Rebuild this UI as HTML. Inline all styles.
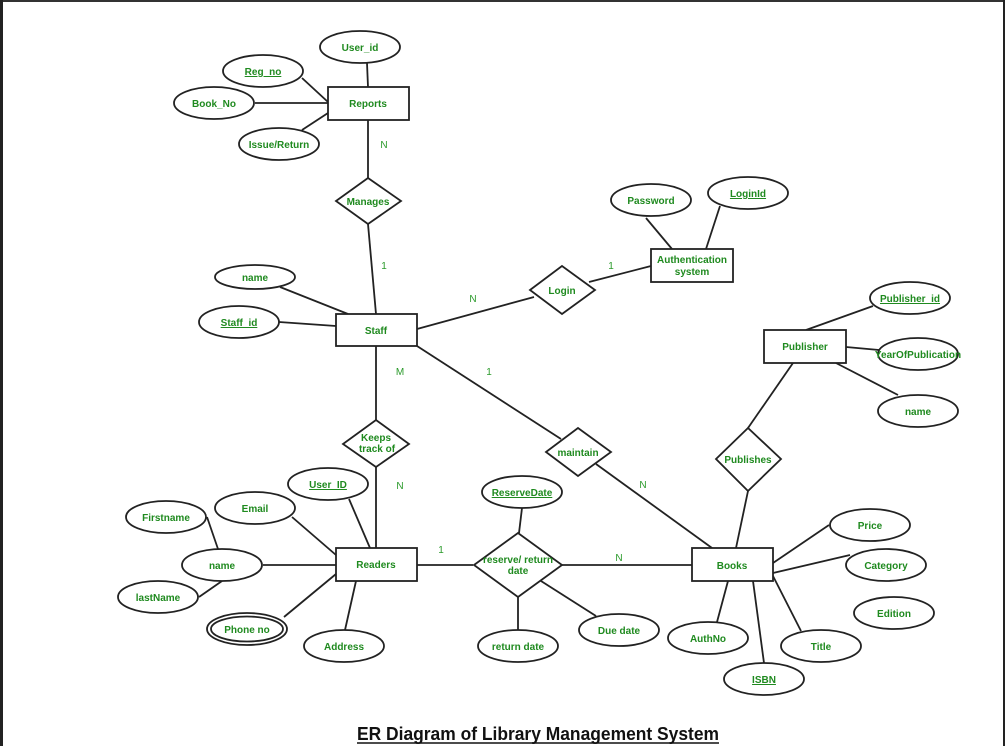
<!DOCTYPE html>
<html><head><meta charset="utf-8"><style>
html,body{margin:0;padding:0;background:#fff;}
svg{display:block;}
text{font-family:"Liberation Sans",Arial,sans-serif;fill:#1f8a1f;font-size:10px;font-weight:bold;text-anchor:middle;}
.c{font-weight:normal;font-size:10px;fill:#2a9a2a;}
</style></head><body>
<svg width="1005" height="746" viewBox="0 0 1005 746" xmlns="http://www.w3.org/2000/svg">
<rect x="0" y="0" width="1005" height="746" fill="#fff"/>
<rect x="0" y="0" width="1005" height="2" fill="#333"/>
<rect x="0" y="0" width="3" height="746" fill="#222"/>
<rect x="1003" y="0" width="2" height="746" fill="#222"/>
<g stroke="#222" stroke-width="1.8" fill="none">
<!-- lines -->
<line x1="367" y1="63" x2="368" y2="87"/>
<line x1="302" y1="78" x2="328" y2="102"/>
<line x1="255" y1="103" x2="328" y2="103"/>
<line x1="302" y1="130" x2="328" y2="113"/>
<line x1="368" y1="120" x2="368" y2="178"/>
<line x1="368" y1="224" x2="376" y2="314"/>
<line x1="280" y1="287" x2="348" y2="314"/>
<line x1="279" y1="322" x2="336" y2="326"/>
<line x1="417" y1="329" x2="534" y2="297"/>
<line x1="589" y1="282" x2="651" y2="266"/>
<line x1="646" y1="218" x2="672" y2="249"/>
<line x1="720" y1="206" x2="706" y2="249"/>
<line x1="806" y1="330" x2="873" y2="306"/>
<line x1="846" y1="347" x2="879" y2="350"/>
<line x1="836" y1="363" x2="898" y2="395"/>
<line x1="793" y1="363" x2="748" y2="428"/>
<line x1="748" y1="491" x2="736" y2="548"/>
<line x1="417" y1="346" x2="561" y2="439"/>
<line x1="596" y1="464" x2="712" y2="548"/>
<line x1="773" y1="563" x2="829" y2="525"/>
<line x1="773" y1="573" x2="850" y2="555"/>
<line x1="773" y1="576" x2="801" y2="631"/>
<line x1="753" y1="581" x2="764" y2="663"/>
<line x1="728" y1="581" x2="717" y2="622"/>
<line x1="522" y1="508" x2="519" y2="533"/>
<line x1="518" y1="597" x2="518" y2="630"/>
<line x1="541" y1="581" x2="596" y2="616"/>
<line x1="562" y1="565" x2="692" y2="565"/>
<line x1="417" y1="565" x2="473" y2="565"/>
<line x1="376" y1="346" x2="376" y2="420"/>
<line x1="376" y1="467" x2="376" y2="548"/>
<line x1="349" y1="499" x2="370" y2="548"/>
<line x1="292" y1="517" x2="336" y2="555"/>
<line x1="207" y1="517" x2="218" y2="549"/>
<line x1="263" y1="565" x2="336" y2="565"/>
<line x1="199" y1="597" x2="222" y2="581"/>
<line x1="284" y1="617" x2="336" y2="574"/>
<line x1="345" y1="630" x2="356" y2="581"/>
</g>
<g stroke="#222" stroke-width="1.8" fill="#fff">
<!-- entities -->
<rect x="328" y="87" width="81" height="33"/>
<rect x="336" y="314" width="81" height="32"/>
<rect x="651" y="249" width="82" height="33"/>
<rect x="764" y="330" width="82" height="33"/>
<rect x="692" y="548" width="81" height="33"/>
<rect x="336" y="548" width="81" height="33"/>
<!-- diamonds -->
<polygon points="336,201 368,178 401,201 368,224"/>
<polygon points="530,290 562,266 595,290 562,314"/>
<polygon points="716,459 748,428 781,459 748,491"/>
<polygon points="546,452 578,428 611,452 578,476"/>
<polygon points="474,565 518,533 562,565 518,597"/>
<polygon points="343,444 376,420 409,444 376,467"/>
<!-- attributes -->
<ellipse cx="360" cy="47" rx="40" ry="16"/>
<ellipse cx="263" cy="71" rx="40" ry="16"/>
<ellipse cx="214" cy="103" rx="40" ry="16"/>
<ellipse cx="279" cy="144" rx="40" ry="16"/>
<ellipse cx="255" cy="277" rx="40" ry="12"/>
<ellipse cx="239" cy="322" rx="40" ry="16"/>
<ellipse cx="651" cy="200" rx="40" ry="16"/>
<ellipse cx="748" cy="193" rx="40" ry="16"/>
<ellipse cx="910" cy="298" rx="40" ry="16"/>
<ellipse cx="918" cy="354" rx="40" ry="16"/>
<ellipse cx="918" cy="411" rx="40" ry="16"/>
<ellipse cx="870" cy="525" rx="40" ry="16"/>
<ellipse cx="886" cy="565" rx="40" ry="16"/>
<ellipse cx="894" cy="613" rx="40" ry="16"/>
<ellipse cx="821" cy="646" rx="40" ry="16"/>
<ellipse cx="764" cy="679" rx="40" ry="16"/>
<ellipse cx="708" cy="638" rx="40" ry="16"/>
<ellipse cx="619" cy="630" rx="40" ry="16"/>
<ellipse cx="522" cy="492" rx="40" ry="16"/>
<ellipse cx="518" cy="646" rx="40" ry="16"/>
<ellipse cx="328" cy="484" rx="40" ry="16"/>
<ellipse cx="255" cy="508" rx="40" ry="16"/>
<ellipse cx="166" cy="517" rx="40" ry="16"/>
<ellipse cx="222" cy="565" rx="40" ry="16"/>
<ellipse cx="158" cy="597" rx="40" ry="16"/>
<ellipse cx="247" cy="629" rx="40" ry="16"/>
<ellipse cx="247" cy="629" rx="36" ry="12.5"/>
<ellipse cx="344" cy="646" rx="40" ry="16"/>
</g>
<g>
<text x="360" y="51">User_id</text>
<text x="263" y="75" text-decoration="underline">Reg_no</text>
<text x="214" y="107">Book_No</text>
<text x="279" y="148">Issue/Return</text>
<text x="368" y="107">Reports</text>
<text x="368" y="205">Manages</text>
<text x="255" y="281">name</text>
<text x="239" y="326" text-decoration="underline">Staff_id</text>
<text x="376" y="334">Staff</text>
<text x="562" y="294">Login</text>
<text x="692" y="263">Authentication</text>
<text x="692" y="275">system</text>
<text x="651" y="204">Password</text>
<text x="748" y="197" text-decoration="underline">LoginId</text>
<text x="910" y="302" text-decoration="underline">Publisher_id</text>
<text x="805" y="350">Publisher</text>
<text x="918" y="358">YearOfPublication</text>
<text x="918" y="415">name</text>
<text x="748" y="463">Publishes</text>
<text x="578" y="456">maintain</text>
<text x="732" y="569">Books</text>
<text x="870" y="529">Price</text>
<text x="886" y="569">Category</text>
<text x="894" y="617">Edition</text>
<text x="821" y="650">Title</text>
<text x="764" y="683" text-decoration="underline">ISBN</text>
<text x="708" y="642">AuthNo</text>
<text x="619" y="634">Due date</text>
<text x="522" y="496" text-decoration="underline">ReserveDate</text>
<text x="518" y="650">return date</text>
<text x="518" y="563">reserve/ return</text>
<text x="518" y="574">date</text>
<text x="376" y="568">Readers</text>
<text x="376" y="441">Keeps</text>
<text x="377" y="452">track of</text>
<text x="328" y="488" text-decoration="underline">User_ID</text>
<text x="255" y="512">Email</text>
<text x="166" y="521">Firstname</text>
<text x="222" y="569">name</text>
<text x="158" y="601">lastName</text>
<text x="247" y="633">Phone no</text>
<text x="344" y="650">Address</text>
<text class="c" x="384" y="148">N</text>
<text class="c" x="384" y="269">1</text>
<text class="c" x="473" y="302">N</text>
<text class="c" x="611" y="269">1</text>
<text class="c" x="400" y="375">M</text>
<text class="c" x="489" y="375">1</text>
<text class="c" x="400" y="489">N</text>
<text class="c" x="643" y="488">N</text>
<text class="c" x="441" y="553">1</text>
<text class="c" x="619" y="561">N</text>
</g>
<text x="538" y="740" style="fill:#111;font-size:18px;" textLength="362" lengthAdjust="spacingAndGlyphs">ER Diagram of Library Management System</text>
<line x1="357" y1="743" x2="719" y2="743" stroke="#111" stroke-width="1.5"/>
</svg>
</body></html>
